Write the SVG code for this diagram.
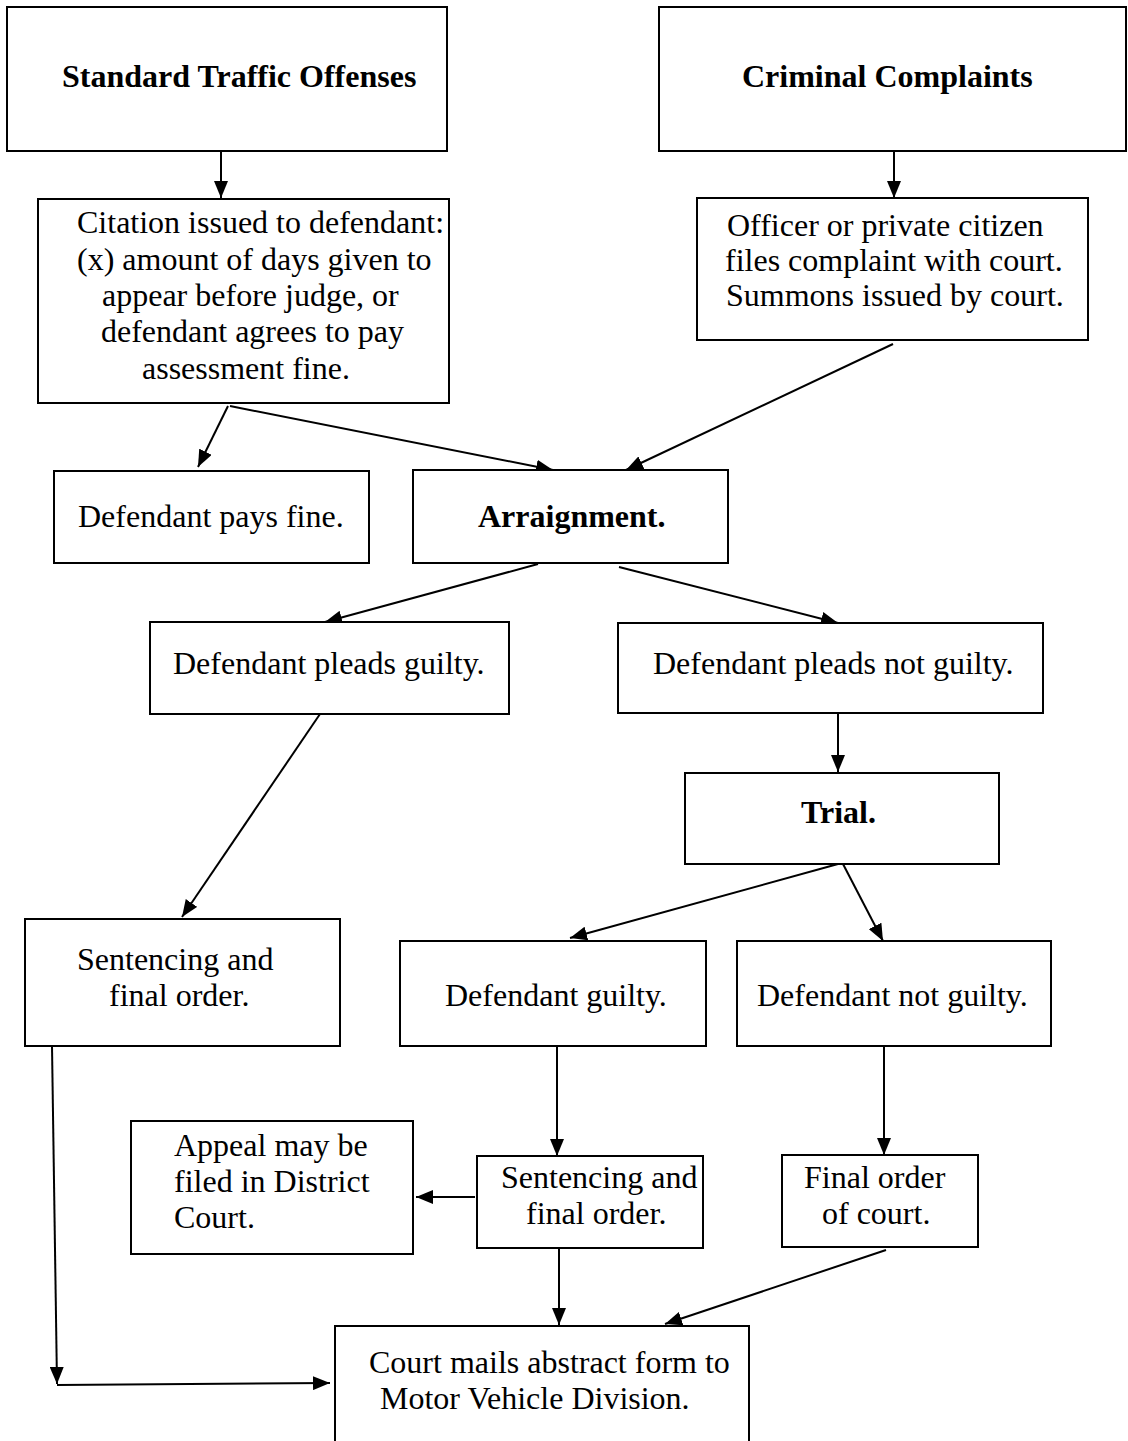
<svg xmlns="http://www.w3.org/2000/svg" width="1128" height="1441" viewBox="0 0 1128 1441">
<style>
.box{fill:#fff;stroke:#000;stroke-width:2}
.t{font-family:"Liberation Serif","Times New Roman",serif;font-size:32px;fill:#000}
.b{font-weight:bold}
.c{fill:none;stroke:#000;stroke-width:2}
</style>
<defs>
<marker id="ah" markerUnits="userSpaceOnUse" markerWidth="18" markerHeight="14" refX="17" refY="7" orient="auto">
<path d="M0,0 L17,7 L0,14 z" fill="#000"/>
</marker>
</defs>
<rect width="1128" height="1441" fill="#fff"/>
<g id="connectors">
<line class="c" x1="221" y1="151" x2="221" y2="198" marker-end="url(#ah)"/>
<line class="c" x1="894" y1="151" x2="894" y2="198" marker-end="url(#ah)"/>
<line class="c" x1="228" y1="406" x2="198" y2="467" marker-end="url(#ah)"/>
<line class="c" x1="230" y1="406" x2="553" y2="470" marker-end="url(#ah)"/>
<line class="c" x1="893" y1="344" x2="626" y2="470" marker-end="url(#ah)"/>
<line class="c" x1="538" y1="564" x2="325" y2="622" marker-end="url(#ah)"/>
<line class="c" x1="619" y1="567" x2="838" y2="623" marker-end="url(#ah)"/>
<line class="c" x1="320" y1="714" x2="182" y2="917" marker-end="url(#ah)"/>
<line class="c" x1="838" y1="713" x2="838" y2="772" marker-end="url(#ah)"/>
<line class="c" x1="838" y1="864" x2="570" y2="938" marker-end="url(#ah)"/>
<line class="c" x1="843" y1="864" x2="883" y2="941" marker-end="url(#ah)"/>
<line class="c" x1="557" y1="1046" x2="557" y2="1156" marker-end="url(#ah)"/>
<line class="c" x1="884" y1="1046" x2="884" y2="1155" marker-end="url(#ah)"/>
<line class="c" x1="475" y1="1197" x2="416" y2="1197" marker-end="url(#ah)"/>
<line class="c" x1="559" y1="1248" x2="559" y2="1325" marker-end="url(#ah)"/>
<line class="c" x1="886" y1="1250" x2="665" y2="1324" marker-end="url(#ah)"/>
<line class="c" x1="52" y1="1046" x2="57" y2="1384" marker-end="url(#ah)"/>
<line class="c" x1="57" y1="1385" x2="330" y2="1383" marker-end="url(#ah)"/>
</g>
<g id="n-standard">
<rect class="box" x="7" y="7" width="440" height="144"/>
<text class="t b" x="62" y="87">Standard Traffic Offenses</text>
</g>
<g id="n-criminal">
<rect class="box" x="659" y="7" width="467" height="144"/>
<text class="t b" x="742" y="87">Criminal Complaints</text>
</g>
<g id="n-citation">
<rect class="box" x="38" y="199" width="411" height="204"/>
<text class="t" x="77" y="233">Citation issued to defendant:</text>
<text class="t" x="77" y="270">(x) amount of days given to</text>
<text class="t" x="102" y="306">appear before judge, or</text>
<text class="t" x="101" y="342">defendant agrees to pay</text>
<text class="t" x="142" y="379">assessment fine.</text>
</g>
<g id="n-officer">
<rect class="box" x="697" y="198" width="391" height="142"/>
<text class="t" x="727" y="236">Officer or private citizen</text>
<text class="t" x="725" y="271">files complaint with court.</text>
<text class="t" x="726" y="306">Summons issued by court.</text>
</g>
<g id="n-pays">
<rect class="box" x="54" y="471" width="315" height="92"/>
<text class="t" x="78" y="527">Defendant pays fine.</text>
</g>
<g id="n-arraignment">
<rect class="box" x="413" y="470" width="315" height="93"/>
<text class="t b" x="478" y="527">Arraignment.</text>
</g>
<g id="n-guilty-plea">
<rect class="box" x="150" y="622" width="359" height="92"/>
<text class="t" x="173" y="674">Defendant pleads guilty.</text>
</g>
<g id="n-notguilty-plea">
<rect class="box" x="618" y="623" width="425" height="90"/>
<text class="t" x="653" y="674">Defendant pleads not guilty.</text>
</g>
<g id="n-trial">
<rect class="box" x="685" y="773" width="314" height="91"/>
<text class="t b" x="801" y="823">Trial.</text>
</g>
<g id="n-sentencing-left">
<rect class="box" x="25" y="919" width="315" height="127"/>
<text class="t" x="77" y="970">Sentencing and</text>
<text class="t" x="109" y="1006">final order.</text>
</g>
<g id="n-def-guilty">
<rect class="box" x="400" y="941" width="306" height="105"/>
<text class="t" x="445" y="1006">Defendant guilty.</text>
</g>
<g id="n-def-notguilty">
<rect class="box" x="737" y="941" width="314" height="105"/>
<text class="t" x="757" y="1006">Defendant not guilty.</text>
</g>
<g id="n-appeal">
<rect class="box" x="131" y="1121" width="282" height="133"/>
<text class="t" x="174" y="1156">Appeal may be</text>
<text class="t" x="174" y="1192">filed in District</text>
<text class="t" x="174" y="1228">Court.</text>
</g>
<g id="n-sentencing-mid">
<rect class="box" x="477" y="1156" width="226" height="92"/>
<text class="t" x="501" y="1188">Sentencing and</text>
<text class="t" x="526" y="1224">final order.</text>
</g>
<g id="n-final-order">
<rect class="box" x="782" y="1155" width="196" height="92"/>
<text class="t" x="804" y="1188">Final order</text>
<text class="t" x="822" y="1224">of court.</text>
</g>
<g id="n-mvd">
<rect class="box" x="335" y="1326" width="414" height="140"/>
<text class="t" x="369" y="1373">Court mails abstract form to</text>
<text class="t" x="380" y="1409">Motor Vehicle Division.</text>
</g>
</svg>
